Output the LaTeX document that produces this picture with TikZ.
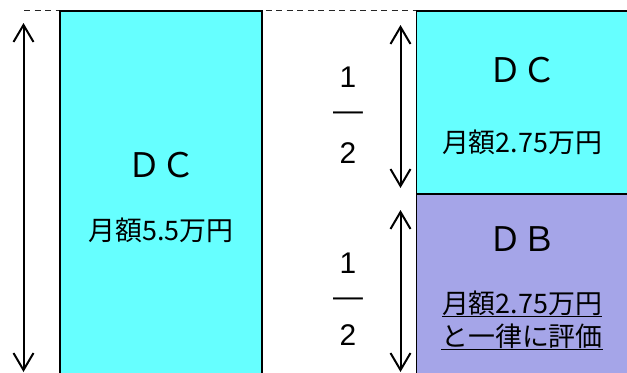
\documentclass[tikz,border=0pt]{standalone}
\usepackage{fontspec}
\newfontfamily\jp{Noto Sans CJK JP}
\newfontfamily\arl{Liberation Sans}
\usetikzlibrary{arrows.meta}
\definecolor{dccyan}{RGB}{102,255,255}
\definecolor{dbpurple}{RGB}{165,165,232}
\begin{document}
\begin{tikzpicture}[x=1bp,y=-1bp,
  box/.style={draw=black, line width=1.5bp, rectangle, inner sep=0pt, outer sep=0pt, anchor=north west},
  dashline/.style={draw=black!85, line width=1.4bp, dash pattern=on 6bp off 4.5bp},
  dimarrow/.style={line width=2bp, {Straight Barb[length=17bp,width=20bp]}-{Straight Barb[length=17bp,width=20bp]}},
  big/.style={font=\jp\fontsize{34}{34}\selectfont, inner sep=0pt, anchor=base},
  mid/.style={font=\jp\fontsize{27}{27}\selectfont, inner sep=0pt, anchor=base},
  frac/.style={font=\arl\fontsize{30}{30}\selectfont, inner sep=0pt, anchor=base}]
\useasboundingbox (0,0) rectangle (627,372);
\clip (0,0) rectangle (627,372);
\fill[white] (0,0) rectangle (627,372);
% dashed reference line
\coordinate (d1) at (24,10.5);
\coordinate (d2) at (627,10.5);
\draw[dashline] (d1) -- (d2);
% boxes
\node[box, fill=dccyan, minimum width=202bp, minimum height=400bp] (dcl) at (60,11) {};
\node[box, fill=dccyan, minimum width=240bp, minimum height=183bp] (dcr) at (416.5,11) {};
\node[box, fill=dbpurple, minimum width=240bp, minimum height=220bp] (dbr) at (416.5,194) {};
% texts
\node[big] (tdcl) at (161,177) {ＤＣ};
\node[mid] (tamtl) at (161,240) {月額5.5万円};
\node[big] (tdcr) at (522,82) {ＤＣ};
\node[mid] (tamtr) at (522,152) {月額2.75万円};
\node[big] (tdbr) at (522,251) {ＤＢ};
\node[mid] (tamtb) at (522,313) {\underline{月額2.75万円}};
\node[mid] (tevl) at (522,346) {\underline{と一律に評価}};
% fractions
\node[frac] (f1n) at (348,87) {1};
\node[frac] (f1b) at (348,120) {—};
\node[frac] (f1d) at (348,163) {2};
\node[frac] (f2n) at (348,273) {1};
\node[frac] (f2b) at (348,306) {—};
\node[frac] (f2d) at (348,345) {2};
% dimension arrows
\coordinate (la1) at (23.5,23);
\coordinate (la2) at (23.5,372);
\coordinate (ra1) at (400.5,25);
\coordinate (ra2) at (400.5,188);
\coordinate (rb1) at (400.5,210);
\coordinate (rb2) at (400.5,372);
\draw[dimarrow] (la1) -- (la2);
\draw[dimarrow] (ra1) -- (ra2);
\draw[dimarrow] (rb1) -- (rb2);
\end{tikzpicture}
\end{document}
